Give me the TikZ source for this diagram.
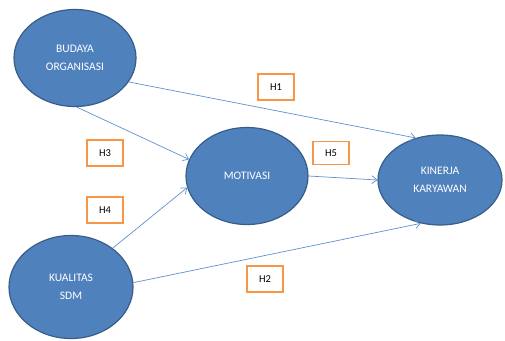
\documentclass[tikz,border=0pt]{standalone}
\usepackage{fontspec}
\setmainfont{Carlito}
\usepackage{xcolor}
\usetikzlibrary{shapes.geometric,arrows.meta}

\definecolor{varfill}{RGB}{79,129,189}
\definecolor{vardraw}{RGB}{56,93,138}
\definecolor{hypo}{RGB}{247,150,70}
\definecolor{pathcol}{RGB}{95,145,205}

\begin{document}
\begin{tikzpicture}[x=1pt, y=-1pt,
  variabel/.style={draw=vardraw, line width=1.2pt, fill=varfill, ellipse, inner sep=0pt,
    minimum width=122pt, minimum height=97pt, text=white, align=center,
    font=\fontsize{11.5}{18}\selectfont},
  hipotesis/.style={draw=hypo, line width=1.8pt, fill=white, rectangle,
    minimum width=36pt, minimum height=26pt, font=\fontsize{10.5}{12}\selectfont},
  jalur/.style={draw=pathcol, line width=0.7pt, -{Straight Barb[length=5pt,width=8pt]}}]
\useasboundingbox (0,0) rectangle (505,340);
% Nodes
\node[variabel] (budaya) at (75,58) {BUDAYA\\ORGANISASI};
\node[variabel] (motivasi) at (247,176) {MOTIVASI};
\node[variabel, minimum width=124pt, minimum height=90pt] (kinerja) at (440,180) {KINERJA\\KARYAWAN};
\node[variabel, minimum width=124pt, minimum height=103pt] (kualitas) at (71,287) {KUALITAS\\SDM};

% Arrows
\draw[jalur] (budaya.-24) -- (kinerja.120);
\draw[jalur] (budaya.-88) -- (motivasi.164);
\draw[jalur] (kualitas.43) -- (motivasi.191);
\draw[jalur] (kualitas.4) -- (kinerja.-114);
\draw[jalur] (motivasi.east) -- (kinerja.west);

% Labels
\node[hipotesis] (h1) at (276,87) {H1};
\node[hipotesis] (h2) at (265,279) {H2};
\node[hipotesis] (h3) at (105,153) {H3};
\node[hipotesis] (h4) at (105,210) {H4};
\node[hipotesis, minimum height=23pt] (h5) at (331,153) {H5};
\end{tikzpicture}
\end{document}
